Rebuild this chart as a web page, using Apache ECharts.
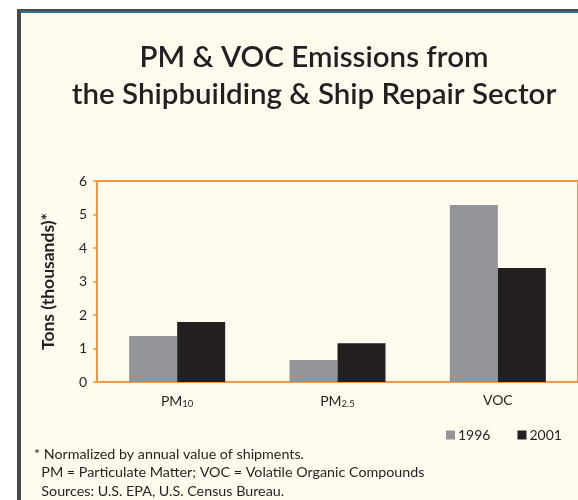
<!DOCTYPE html>
<html>
<head>
<meta charset="utf-8">
<script src="https://cdn.jsdelivr.net/npm/echarts@6/dist/echarts.min.js"></script>
<style>html,body{margin:0;padding:0;background:#fff;overflow:hidden}#c{width:578px;height:500px}</style>
</head>
<body>
<div id="c"></div>
<script>
const categories = ['PM{sub|10}', 'PM{sub|2.5}', 'VOC'];
const values1996 = [1.37, 0.66, 5.28];
const values2001 = [1.79, 1.16, 3.40];
const seriesNames = ['1996', '2001'];
const yTicks = [0, 1, 2, 3, 4, 5, 6];
const titleLines = ['PM & VOC Emissions from', 'the Shipbuilding & Ship Repair Sector'];
const footnotes = ['* Normalized by annual value of shipments.', '  PM = Particulate Matter; VOC = Volatile Organic Compounds', '  Sources: U.S. EPA, U.S. Census Bureau.'];

const ORANGE = '#f7963f';
const TEXT = '#231f20';
const FONT = 'Lato';

const chart = echarts.init(document.getElementById('c'), null, {renderer: 'canvas'});
chart.setOption({
  backgroundColor: '#ffffff',
  animation: false,
  graphic: [
    {type: 'rect', z: -10, shape: {x: 17, y: 9, width: 561, height: 491}, style: {fill: '#fffcef'}},
    {type: 'rect', z: -5, shape: {x: 17, y: 9, width: 4, height: 491}, style: {fill: '#4a4a4a'}},
    {type: 'rect', z: -5, shape: {x: 17, y: 9, width: 561, height: 2}, style: {fill: '#4a4a4a'}},
    {type: 'rect', z: -5, shape: {x: 21, y: 11, width: 557, height: 2}, style: {fill: '#2b7896'}},
    {type: 'text', left: 34, top: 445, style: {text: footnotes.join('\n'), fill: TEXT, font: '14.3px Lato', lineHeight: 18.5}}
  ],
  title: {
    text: titleLines.join('\n'),
    left: 309, top: 34, textAlign: 'center',
    textStyle: {fontFamily: FONT, fontSize: 29.5, fontWeight: 600, color: TEXT, lineHeight: 37}
  },
  legend: {
    data: seriesNames,
    left: 446, top: 428,
    itemWidth: 9, itemHeight: 9, itemGap: 27, padding: 0,
    icon: 'rect',
    textStyle: {fontFamily: FONT, fontSize: 14, color: TEXT, padding: [0, 0, 0, -2]}
  },
  grid: {left: 97, top: 181, width: 498, height: 201, show: true, borderColor: ORANGE, borderWidth: 2, backgroundColor: 'transparent', containLabel: false},
  xAxis: {
    type: 'category',
    data: categories,
    axisLine: {lineStyle: {color: ORANGE, width: 2}},
    axisTick: {show: false},
    axisLabel: {
      margin: 11, color: TEXT, fontFamily: FONT, fontSize: 14,
      rich: {sub: {fontSize: 9.5, verticalAlign: 'bottom', padding: [6, 0, 0, 0], color: TEXT, fontFamily: FONT}}
    }
  },
  yAxis: {
    type: 'value',
    min: yTicks[0], max: yTicks[yTicks.length - 1], interval: 1,
    name: 'Tons (thousands)*',
    nameLocation: 'middle', nameGap: 40,
    nameTextStyle: {fontFamily: FONT, fontSize: 17.5, fontWeight: 'bold', color: TEXT},
    axisLine: {show: true, lineStyle: {color: ORANGE, width: 2}},
    axisTick: {show: true, length: 4, lineStyle: {color: ORANGE, width: 1.5}},
    splitLine: {show: false},
    axisLabel: {margin: 10, color: TEXT, fontFamily: FONT, fontSize: 14}
  },
  series: [
    {name: seriesNames[0], type: 'bar', data: values1996, barWidth: 48, barGap: '0%', itemStyle: {color: '#939598'}},
    {name: seriesNames[1], type: 'bar', data: values2001, barWidth: 48, barGap: '0%', itemStyle: {color: '#231f20'}}
  ]
});
</script>
</body>
</html>
